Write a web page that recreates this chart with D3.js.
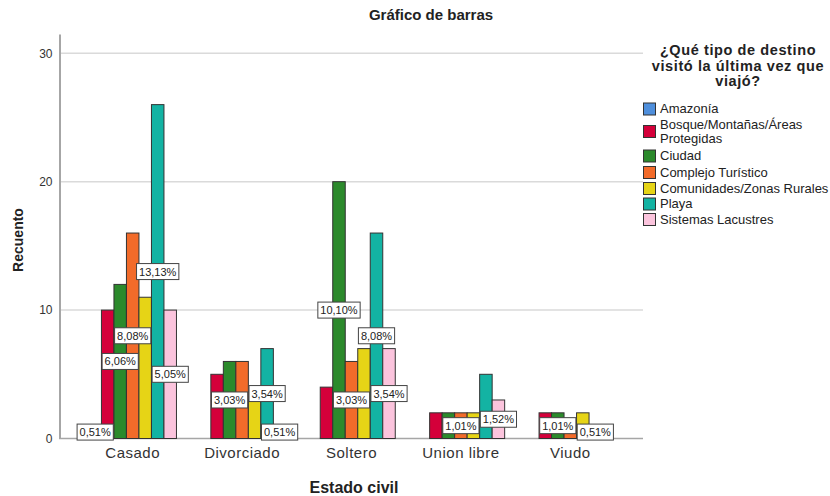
<!DOCTYPE html>
<html>
<head>
<meta charset="utf-8">
<script src="https://cdn.jsdelivr.net/npm/d3@7/dist/d3.min.js"></script>
<style>
  body { margin: 0; background: #fff; }
  svg { font-family: "Liberation Sans", Arial, sans-serif; }
</style>
</head>
<body>
<svg id="chart" width="830" height="496"></svg>
<script>
const categories = ["Casado", "Divorciado", "Soltero", "Union libre", "Viudo"];
const seriesNames = ["Amazonía", "Bosque/Montañas/Áreas Protegidas", "Ciudad", "Complejo Turístico",
  "Comunidades/Zonas Rurales", "Playa", "Sistemas Lacustres"];
const amazonia    = [1, 0, 0, 0, 0];
const bosque      = [10, 5, 4, 2, 2];
const ciudad      = [12, 6, 20, 2, 2];
const complejo    = [16, 6, 6, 2, 1];
const comunidades = [11, 3, 7, 2, 2];
const playa       = [26, 7, 16, 5, 1];
const lacustres   = [10, 1, 7, 3, 0];
const yTicks = [0, 10, 20, 30];

const seriesValues = [amazonia, bosque, ciudad, complejo, comunidades, playa, lacustres];
const colors = ["#4f8fdc", "#d4003a", "#2c8a2c", "#f26b2a", "#e6d416", "#13b3a3", "#fbc4dd"];
const total = d3.sum(seriesValues, s => d3.sum(s));

const svg = d3.select("#chart");

const x = d3.scaleBand()
  .domain(categories)
  .range([78, 625])
  .paddingInner(0.2)
  .paddingOuter(0.1);

const xs = d3.scaleBand()
  .domain(d3.range(seriesNames.length))
  .range([0, x.bandwidth()]);

const y = d3.scaleLinear()
  .domain([0, 31.5])
  .range([438.5, 34]);

// title
svg.append("text")
  .attr("x", 431).attr("y", 20)
  .attr("text-anchor", "middle")
  .style("font-size", "15px").style("font-weight", "bold").attr("fill", "#222")
  .text("Gráfico de barras");

// grid
svg.append("g")
  .selectAll("line")
  .data(yTicks.filter(d => d > 0))
  .join("line")
    .attr("x1", 59).attr("x2", 643)
    .attr("y1", d => y(d)).attr("y2", d => y(d))
    .attr("stroke", "#dadada").attr("stroke-width", 1.5);

// y axis
const yAxis = svg.append("g")
  .attr("transform", "translate(59.5,0)")
  .call(d3.axisLeft(y).tickValues(yTicks).tickSize(0).tickPadding(7));
yAxis.select(".domain").attr("stroke", "#a6a6a6").attr("stroke-width", 2);
yAxis.selectAll("text").style("font-size", "12px").attr("fill", "#333")
  .style("font-family", "'Liberation Sans', Arial, sans-serif");

// baseline
svg.append("line")
  .attr("x1", 59).attr("x2", 643)
  .attr("y1", y(0)).attr("y2", y(0))
  .attr("stroke", "#a6a6a6").attr("stroke-width", 1.5);

// x axis labels
const xAxis = svg.append("g")
  .attr("transform", "translate(0," + y(0) + ")")
  .call(d3.axisBottom(x).tickSize(0).tickPadding(9));
xAxis.select(".domain").remove();
xAxis.selectAll("text").style("font-size", "15px").style("letter-spacing", "0.5px").attr("fill", "#333")
  .style("font-family", "'Liberation Sans', Arial, sans-serif");

// axis titles
svg.append("text")
  .attr("x", 354).attr("y", 493)
  .attr("text-anchor", "middle")
  .style("font-size", "16px").style("font-weight", "bold").attr("fill", "#222")
  .text("Estado civil");

svg.append("text")
  .attr("transform", "translate(23,240) rotate(-90)")
  .attr("text-anchor", "middle")
  .style("font-size", "14px").style("font-weight", "bold").attr("fill", "#222")
  .text("Recuento");

// bars
const bars = [];
categories.forEach((c, ci) => {
  seriesValues.forEach((s, si) => {
    if (s[ci] > 0) bars.push({ cat: c, si: si, v: s[ci] });
  });
});

svg.append("g")
  .selectAll("rect")
  .data(bars)
  .join("rect")
    .attr("x", d => x(d.cat) + xs(d.si))
    .attr("y", d => y(d.v))
    .attr("width", xs.bandwidth())
    .attr("height", d => y(0) - y(d.v))
    .attr("fill", d => colors[d.si])
    .attr("stroke", "#333").attr("stroke-width", 1);

// value labels, last series first, skip overlapping ones
const fmt = v => (v / total * 100).toFixed(2).replace(".", ",") + "%";
const labelG = svg.append("g");
const placed = [];
categories.forEach((c, ci) => {
  for (let si = seriesValues.length - 1; si >= 0; si--) {
    const v = seriesValues[si][ci];
    if (!v) continue;
    const cx = x(c) + xs(si) + xs.bandwidth() / 2;
    const cy = (y(v) + y(0)) / 2;
    const g = labelG.append("g");
    const rect = g.append("rect");
    const txt = g.append("text")
      .attr("x", cx).attr("y", cy + 4)
      .attr("text-anchor", "middle")
      .style("font-size", "11px").attr("fill", "#222")
      .text(fmt(v));
    const w = Math.max(34, txt.node().getComputedTextLength() + 5), h = 16;
    const box = { x0: cx - w / 2, x1: cx + w / 2, y0: cy - h / 2, y1: cy + h / 2 };
    const hit = placed.some(b => box.x0 < b.x1 && box.x1 > b.x0 && box.y0 < b.y1 && box.y1 > b.y0);
    if (hit) { g.remove(); continue; }
    placed.push(box);
    rect.attr("x", box.x0).attr("y", box.y0)
      .attr("width", w).attr("height", h)
      .attr("fill", "#fff").attr("stroke", "#444").attr("stroke-width", 1);
  }
});

// legend
const legendTitle = ["¿Qué tipo de destino", "visitó la última vez que", "viajó?"];
svg.append("text")
  .attr("x", 738).attr("y", 55)
  .attr("text-anchor", "middle")
  .style("font-size", "14.5px").style("font-weight", "bold").style("letter-spacing", "0.6px").attr("fill", "#222")
  .selectAll("tspan")
  .data(legendTitle)
  .join("tspan")
    .attr("x", 738)
    .attr("dy", (d, i) => i === 0 ? 0 : 15.5)
    .text(d => d);

const legendRows = [109, 131.5, 156, 172.5, 188.5, 204, 219.5];
const legend = svg.append("g");
seriesNames.forEach((name, i) => {
  const cy = legendRows[i];
  legend.append("rect")
    .attr("x", 643.5).attr("y", cy - 6)
    .attr("width", 12).attr("height", 12)
    .attr("fill", colors[i]).attr("stroke", "#333");
  const lines = i === 1 ? ["Bosque/Montañas/Áreas", "Protegidas"] : [name];
  const t = legend.append("text")
    .attr("x", 660).attr("y", cy + 4 - (lines.length - 1) * 7)
    .style("font-size", "13px").attr("fill", "#222");
  t.selectAll("tspan")
    .data(lines)
    .join("tspan")
      .attr("x", 660)
      .attr("dy", (d, k) => k === 0 ? 0 : 14)
      .text(d => d);
});
</script>
</body>
</html>
